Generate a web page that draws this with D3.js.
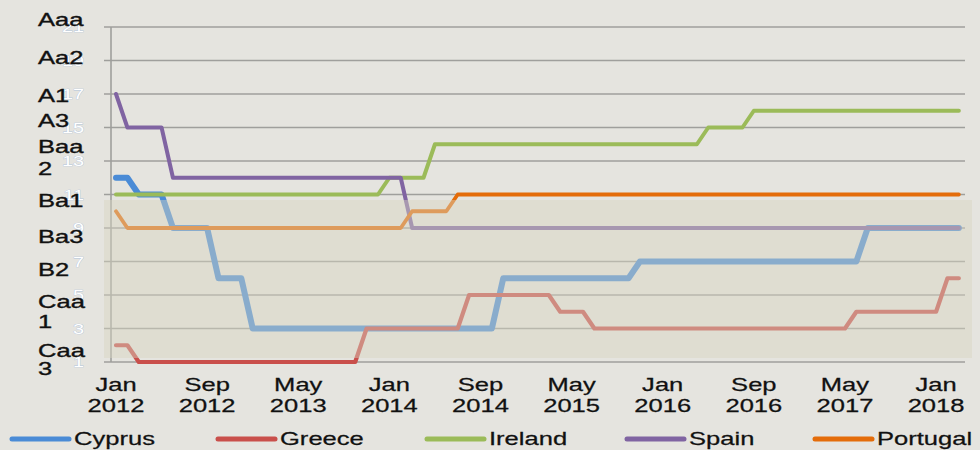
<!DOCTYPE html>
<html>
<head>
<meta charset="utf-8">
<script src="https://cdn.jsdelivr.net/npm/d3@7/dist/d3.min.js"></script>
<style>
  html, body { margin: 0; padding: 0; background: #e5e4df; }
  svg { display: block; }
  text { font-family: "Liberation Sans", Arial, sans-serif; }
</style>
</head>
<body>
<svg id="chart" width="980" height="450"></svg>
<script>
// ---- data (monthly, Jan 2012 = index 0 .. Mar 2018 = index 74) ----
const seriesNames = ["Cyprus", "Greece", "Ireland", "Spain", "Portugal"];

const cyprus = [
  12,12,11,11,11,9,9,9,9,6,6,6,
  3,3,3,3,3,3,3,3,3,3,3,3,
  3,3,3,3,3,3,3,3,3,3,6,6,
  6,6,6,6,6,6,6,6,6,6,7,7,
  7,7,7,7,7,7,7,7,7,7,7,7,
  7,7,7,7,7,7,9,9,9,9,9,9,
  9,9,9
];
const greece = [
  2,2,1,1,1,1,1,1,1,1,1,1,
  1,1,1,1,1,1,1,1,1,1,3,3,
  3,3,3,3,3,3,3,5,5,5,5,5,
  5,5,5,4,4,4,3,3,3,3,3,3,
  3,3,3,3,3,3,3,3,3,3,3,3,
  3,3,3,3,3,4,4,4,4,4,4,4,
  4,6,6
];
const ireland = [
  11,11,11,11,11,11,11,11,11,11,11,11,
  11,11,11,11,11,11,11,11,11,11,11,11,
  12,12,12,12,14,14,14,14,14,14,14,14,
  14,14,14,14,14,14,14,14,14,14,14,14,
  14,14,14,14,15,15,15,15,16,16,16,16,
  16,16,16,16,16,16,16,16,16,16,16,16,
  16,16,16
];
const spain = [
  17,15,15,15,15,12,12,12,12,12,12,12,
  12,12,12,12,12,12,12,12,12,12,12,12,
  12,12,9,9,9,9,9,9,9,9,9,9,
  9,9,9,9,9,9,9,9,9,9,9,9,
  9,9,9,9,9,9,9,9,9,9,9,9,
  9,9,9,9,9,9,9,9,9,9,9,9,
  9,9,9
];
const portugal = [
  10,9,9,9,9,9,9,9,9,9,9,9,
  9,9,9,9,9,9,9,9,9,9,9,9,
  9,9,10,10,10,10,11,11,11,11,11,11,
  11,11,11,11,11,11,11,11,11,11,11,11,
  11,11,11,11,11,11,11,11,11,11,11,11,
  11,11,11,11,11,11,11,11,11,11,11,11,
  11,11,11
];

const xTickIndex = [0, 8, 16, 24, 32, 40, 48, 56, 64, 72];
const xTickLabels = [
  ["Jan","2012"],["Sep","2012"],["May","2013"],["Jan","2014"],["Sep","2014"],
  ["May","2015"],["Jan","2016"],["Sep","2016"],["May","2017"],["Jan","2018"]
];
const yTickValues = [21, 19, 17, 15, 13, 11, 9, 7, 5, 3, 1];
const ratingLabels = [["Aaa"],["Aa2"],["A1"],["A3"],["Baa","2"],["Ba1"],["Ba3"],["B2"],["Caa","1"],["Caa","3"]];

// ---- styles / layout ----
const colors = {Cyprus:"#4a8bd6", Greece:"#c94f4b", Ireland:"#9bbb59", Spain:"#8064a2", Portugal:"#e46c0a"};
const widths = {Cyprus:6, Greece:4.2, Ireland:4, Spain:4, Portugal:3.8};
const values = {Cyprus:cyprus, Greece:greece, Ireland:ireland, Spain:spain, Portugal:portugal};
const SX = 1.42;           // horizontal text stretch of the original image
const FS = 18;

const svg = d3.select("#chart");
svg.append("rect").attr("width", 980).attr("height", 450).attr("fill", "#e5e4df");

const x = d3.scaleLinear().domain([0, 74]).range([116, 116 + 74 * 11.39]);
const y = d3.scaleLinear().domain([1, 21]).range([362, 27]);
const xLeft = 111, xRight = 965;

// gridlines + tick marks
svg.append("g").selectAll("line").data(yTickValues).join("line")
  .attr("x1", 104).attr("x2", xRight)
  .attr("y1", d => y(d)).attr("y2", d => y(d))
  .attr("stroke", "#9f9f9c").attr("stroke-width", 1.6);
// y axis line
svg.append("line").attr("x1", xLeft).attr("x2", xLeft).attr("y1", y(21)).attr("y2", y(1))
  .attr("stroke", "#9f9f9c").attr("stroke-width", 1.6);

// series
const line = d3.line().x((d, i) => x(i)).y(d => y(d));
const gLines = svg.append("g");
seriesNames.forEach(name => {
  gLines.append("path").datum(values[name])
    .attr("d", line)
    .attr("fill", "none")
    .attr("stroke", colors[name])
    .attr("stroke-width", widths[name])
    .attr("stroke-linejoin", "round")
    .attr("stroke-linecap", "round");
});

// translucent shaded band over the lower part of the plot
svg.append("rect")
  .attr("x", 104).attr("y", 200).attr("width", 972 - 104).attr("height", 158)
  .attr("fill", "rgb(216,212,193)").attr("fill-opacity", 0.45);

// ghost numeric tick labels
svg.append("g").selectAll("text").data(yTickValues).join("text")
  .attr("transform", d => `translate(84,${y(d) + 5}) scale(${SX},1)`)
  .attr("text-anchor", "end")
  .attr("font-size", 14)
  .attr("fill", "#ffffff")
  .attr("stroke", "#b4c6dc").attr("stroke-width", 0.7)
  .attr("paint-order", "stroke")
  .text(d => d);

// rating labels (overlay text positions)
const ratingBaseline = [26, 64, 102, 127, 153, 207, 243, 276, 308, 357];
const ratingLineGap = [0, 0, 0, 0, 22, 0, 0, 0, 20, 18];
const gR = svg.append("g");
ratingLabels.forEach((lines, k) => {
  lines.forEach((t, j) => {
    gR.append("text")
      .attr("transform", `translate(38,${ratingBaseline[k] + j * ratingLineGap[k]}) scale(${SX},1)`)
      .attr("font-size", FS).attr("fill", "#111")
      .attr("stroke", "#111").attr("stroke-width", 0.35)
      .text(t);
  });
});

// x tick labels
const gX = svg.append("g");
xTickIndex.forEach((idx, k) => {
  xTickLabels[k].forEach((t, j) => {
    gX.append("text")
      .attr("transform", `translate(${x(idx)},${391 + j * 21}) scale(${SX},1)`)
      .attr("text-anchor", "middle")
      .attr("font-size", FS).attr("fill", "#111")
      .attr("stroke", "#111").attr("stroke-width", 0.25)
      .text(t);
  });
});

// legend
const legendX = [12, 218, 427, 627, 815];
const gL = svg.append("g");
seriesNames.forEach((name, k) => {
  gL.append("line")
    .attr("x1", legendX[k]).attr("x2", legendX[k] + 57)
    .attr("y1", 439).attr("y2", 439)
    .attr("stroke", colors[name]).attr("stroke-width", 5)
    .attr("stroke-linecap", "round");
  gL.append("text")
    .attr("transform", `translate(${legendX[k] + 62},445) scale(${SX},1)`)
    .attr("font-size", FS).attr("fill", "#111")
    .attr("stroke", "#111").attr("stroke-width", 0.25)
    .text(name);
});
</script>
</body>
</html>
